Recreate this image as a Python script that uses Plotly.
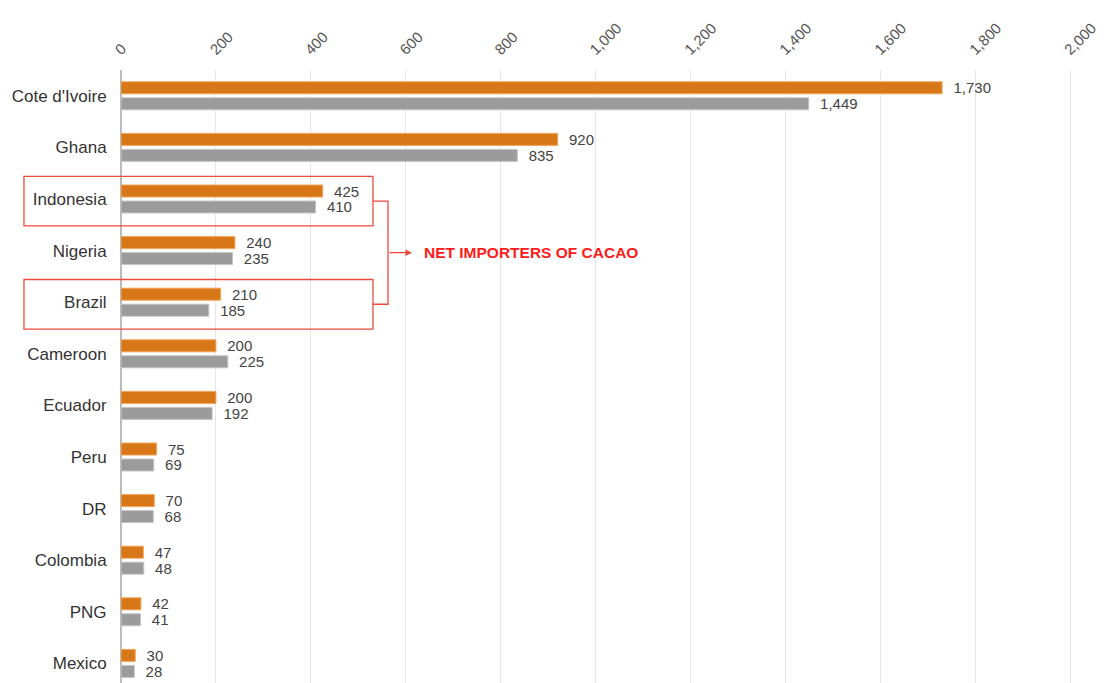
import plotly.graph_objects as go

countries = ["Cote d'Ivoire", "Ghana", "Indonesia", "Nigeria", "Brazil", "Cameroon",
             "Ecuador", "Peru", "DR", "Colombia", "PNG", "Mexico"]
series_orange = [1730, 920, 425, 240, 210, 200, 200, 75, 70, 47, 42, 30]
series_gray = [1449, 835, 410, 235, 185, 225, 192, 69, 68, 48, 41, 28]
x_ticks = [0, 200, 400, 600, 800, 1000, 1200, 1400, 1600, 1800, 2000]

FONT = "Arial, Liberation Sans, sans-serif"
ORANGE = "#d87718"
GRAY = "#9b9b9b"
RED = "#f04a3a"

fig = go.Figure()
for vals, color, edge, name in [(series_orange, ORANGE, "#f2a35a", "Series 1"),
                                (series_gray, GRAY, "#c4c4c4", "Series 2")]:
    fig.add_trace(go.Bar(
        y=countries, x=vals, orientation="h", name=name,
        marker=dict(color=color, line=dict(color=edge, width=1)),
        text=vals, texttemplate="\u00a0\u00a0%{x:,}", textposition="outside",
        constraintext="none",
        textfont=dict(family=FONT, size=15, color="#444"),
        cliponaxis=False,
    ))

# boxes around the net importers + bracket + label
# paper x: plot spans 0..2010 so 1 paper unit = 2010 data units
shapes = []
for idx in (2, 4):
    shapes.append(dict(type="rect", xref="paper", yref="y",
                       x0=-0.1017, x1=0.2641, y0=idx - 0.44, y1=idx + 0.52,
                       line=dict(color=RED, width=1.3)))
bracket_x = 0.2799
shapes.append(dict(type="path", xref="paper", yref="y",
                   path=f"M 0.2641,2.04 L {bracket_x},2.04 L {bracket_x},4.04 L 0.2641,4.04",
                   line=dict(color=RED, width=1.3)))

# page body has an 8px margin, so the figure is a bit smaller than the window
fig.update_layout(
    width=1097, height=675,
    margin=dict(l=113, r=30, t=62, b=0),
    plot_bgcolor="white", paper_bgcolor="white",
    barmode="group", bargap=0.38, bargroupgap=0.25,
    showlegend=False,
    font=dict(family=FONT, color="#333"),
    shapes=shapes,
    annotations=[
        dict(xref="paper", yref="y", x=0.3051, y=3.04, ax=-24, ay=0,
             axref="pixel", ayref="pixel", text="", showarrow=True,
             arrowhead=2, arrowsize=1, arrowwidth=1.3, arrowcolor=RED),
        dict(xref="paper", yref="y", x=0.3155, y=3.04, xanchor="left",
             text="<b>NET IMPORTERS OF CACAO</b>", showarrow=False,
             font=dict(family=FONT, size=15.5, color="#ff1a1a")),
    ],
    xaxis=dict(side="top", range=[0, 2010], tickvals=x_ticks, tickformat=",",
               tickangle=-45, showgrid=True, gridcolor="#e6e6e6", gridwidth=1,
               zeroline=True, zerolinecolor="#bbbbbb", zerolinewidth=1.5,
               ticks="outside", ticklen=5, tickcolor="rgba(0,0,0,0)",
               automargin=False, ticklabeloverflow="allow", ticklabelshift=-5,
               tickfont=dict(family=FONT, size=15, color="#555")),
    yaxis=dict(range=[11.38, -0.5], showgrid=False, automargin=False,
               ticks="outside", ticklen=10, tickcolor="rgba(0,0,0,0)",
               tickfont=dict(family=FONT, size=17, color="#333")),
)

fig.write_html("out.html")
